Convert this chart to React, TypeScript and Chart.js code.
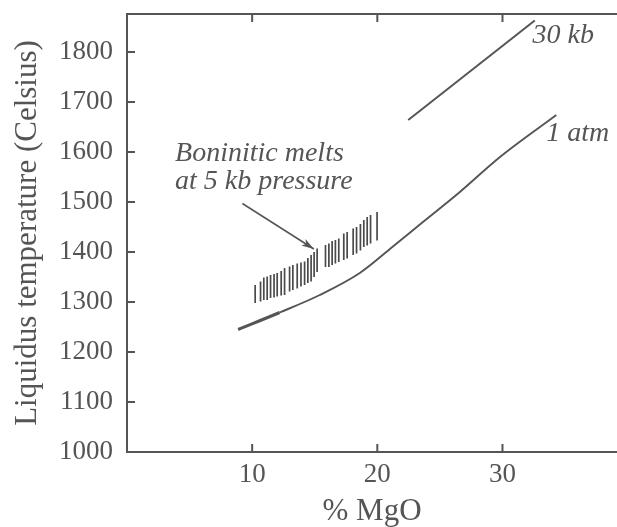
import React, { useEffect, useRef } from "react";
import { Chart, registerables } from "chart.js";

Chart.register(...registerables);

// 1 atm liquidus curve
const atmX = [8.88, 12.2, 15.4, 18.6, 21.2, 23.4, 26.5, 29.8, 34.3];
const atmY = [1245, 1279, 1314, 1358, 1410, 1455, 1518, 1590, 1674];

// 30 kb liquidus line
const kbX = [22.47, 32.58];
const kbY = [1664, 1863];

// Boninitic melts at 5 kb (vertical bars)
const bonX = [10.24, 10.67, 10.93, 11.2, 11.47, 11.75, 12.0, 12.32, 12.59, 12.99, 13.25, 13.6, 13.9, 14.19, 14.45, 14.71, 14.95, 15.19, 15.86, 16.13, 16.39, 16.65, 16.92, 17.32, 17.59, 18.07, 18.34, 18.65, 18.92, 19.19, 19.46, 19.98];
const bonHigh = [1334, 1341, 1349, 1351, 1354, 1356, 1358, 1362, 1368, 1371, 1374, 1377, 1379, 1381, 1388, 1394, 1400, 1407, 1414, 1417, 1422, 1424, 1427, 1437, 1440, 1447, 1450, 1456, 1464, 1470, 1474, 1480];
const bonLow = [1298, 1301, 1304, 1304, 1308, 1309, 1311, 1313, 1314, 1321, 1324, 1327, 1331, 1334, 1338, 1341, 1350, 1360, 1370, 1370, 1374, 1377, 1380, 1384, 1387, 1394, 1397, 1403, 1410, 1413, 1417, 1423];

const xTickLabels = ["10", "20", "30"];
const yTickLabels = ["1000", "1100", "1200", "1300", "1400", "1500", "1600", "1700", "1800"];

const INK = "#555555";
const TEXT = "#555555";
const SERIF = "'Liberation Serif', 'DejaVu Serif', serif";

export default function App() {
  const ref = useRef<HTMLCanvasElement | null>(null);

  useEffect(() => {
    const canvas = ref.current;
    if (!canvas) return;

    const bonData: any[] = [];
    bonX.forEach((x, i) => {
      bonData.push({ x, y: bonLow[i] });
      bonData.push({ x, y: bonHigh[i] });
      bonData.push({ x, y: null });
    });

    const inwardTicks = {
      id: "inwardTicks",
      afterDraw(chart: any) {
        const { ctx, chartArea, scales } = chart;
        ctx.save();
        ctx.strokeStyle = INK;
        ctx.lineWidth = 2;
        const xs = scales.x;
        xs.ticks.forEach((t: any) => {
          if (!xTickLabels.includes(String(t.value))) return;
          const px = xs.getPixelForValue(t.value);
          ctx.beginPath();
          ctx.moveTo(px, chartArea.bottom);
          ctx.lineTo(px, chartArea.bottom - 8);
          ctx.moveTo(px, chartArea.top);
          ctx.lineTo(px, chartArea.top + 8);
          ctx.stroke();
        });
        const ys = scales.y;
        ys.ticks.forEach((t: any) => {
          if (t.value <= 1000) return;
          const py = ys.getPixelForValue(t.value);
          ctx.beginPath();
          ctx.moveTo(chartArea.left, py);
          ctx.lineTo(chartArea.left + 8, py);
          ctx.stroke();
        });
        ctx.restore();
      },
    };

    const notes = {
      id: "notes",
      afterDraw(chart: any) {
        const { ctx, scales } = chart;
        const X = (v: number) => scales.x.getPixelForValue(v);
        const Y = (v: number) => scales.y.getPixelForValue(v);
        ctx.save();
        ctx.fillStyle = TEXT;
        ctx.font = `italic 28px ${SERIF}`;
        ctx.textAlign = "left";
        ctx.textBaseline = "middle";
        ctx.fillText("30 kb", X(32.4), Y(1832));
        ctx.fillText("1 atm", X(33.5), Y(1636));
        ctx.textBaseline = "alphabetic";
        ctx.fillText("Boninitic melts", X(3.84), Y(1582));
        ctx.fillText("at 5 kb pressure", X(3.84), Y(1526));
        // arrow
        const x0 = X(9.22), y0 = Y(1497), x1 = X(14.93), y1 = Y(1406);
        ctx.strokeStyle = INK;
        ctx.lineWidth = 1.5;
        ctx.beginPath();
        ctx.moveTo(x0, y0);
        ctx.lineTo(x1, y1);
        ctx.stroke();
        const ang = Math.atan2(y1 - y0, x1 - x0);
        const L = 13, W = 0.3;
        ctx.beginPath();
        ctx.moveTo(x1, y1);
        ctx.lineTo(x1 - L * Math.cos(ang - W), y1 - L * Math.sin(ang - W));
        ctx.lineTo(x1 - L * 0.7 * Math.cos(ang), y1 - L * 0.7 * Math.sin(ang));
        ctx.lineTo(x1 - L * Math.cos(ang + W), y1 - L * Math.sin(ang + W));
        ctx.closePath();
        ctx.fillStyle = INK;
        ctx.fill();
        ctx.restore();
      },
    };

    const chart = new Chart(canvas, {
      type: "scatter",
      data: {
        datasets: [
          {
            label: "1 atm",
            data: atmX.map((x, i) => ({ x, y: atmY[i] })),
            showLine: true,
            borderColor: INK,
            borderWidth: 2,
            pointRadius: 0,
            cubicInterpolationMode: "monotone",
            segment: {
              borderWidth: (c: any) => (c.p0.parsed.x < 12 ? 3 : 1.9),
            },
          },
          {
            label: "30 kb",
            data: kbX.map((x, i) => ({ x, y: kbY[i] })),
            showLine: true,
            borderColor: INK,
            borderWidth: 2,
            pointRadius: 0,
          },
          {
            label: "Boninitic melts",
            data: bonData,
            showLine: true,
            spanGaps: false,
            borderColor: "#4a4a4a",
            borderWidth: 1.7,
            pointRadius: 0,
          },
        ],
      },
      options: {
        animation: false,
        responsive: false,
        layout: { padding: 0 },
        plugins: { legend: { display: false }, tooltip: { enabled: false } },
        scales: {
          x: {
            type: "linear",
            position: "bottom",
            min: 0,
            max: 39.15,
            afterFit: (s: any) => { s.height = 75; s.paddingLeft = 0; s.paddingRight = 0; },
            grid: { display: true, drawOnChartArea: false, drawTicks: false },
            border: { display: true, color: INK, width: 2 },
            ticks: {
              stepSize: 10,
              includeBounds: false,
              padding: 7,
              color: TEXT,
              font: { family: SERIF, size: 27 },
              maxRotation: 0,
              callback: (v: any) => (xTickLabels.includes(String(v)) ? String(v) : ""),
            },
            title: {
              display: true,
              text: "% MgO",
              color: TEXT,
              font: { family: SERIF, size: 31, lineHeight: 1 },
              padding: { top: 0, bottom: 0 },
            },
          },
          x2: {
            type: "linear",
            position: "top",
            min: 0,
            max: 39.15,
            afterFit: (s: any) => { s.height = 14; s.paddingLeft = 0; s.paddingRight = 0; },
            grid: { display: true, drawOnChartArea: false, drawTicks: false },
            border: { display: true, color: INK, width: 2 },
            ticks: { display: false },
          },
          y: {
            type: "linear",
            min: 1000,
            max: 1876,
            afterFit: (s: any) => { s.width = 127; s.paddingTop = 0; s.paddingBottom = 0; },
            grid: { display: true, drawOnChartArea: false, drawTicks: false },
            border: { display: true, color: INK, width: 2 },
            ticks: {
              stepSize: 100,
              includeBounds: false,
              padding: 14,
              color: TEXT,
              font: { family: SERIF, size: 27 },
              callback: (v: any) => (yTickLabels.includes(String(v)) ? String(v) : ""),
            },
            title: {
              display: true,
              text: "Liquidus temperature (Celsius)",
              color: TEXT,
              font: { family: SERIF, size: 31, lineHeight: 1 },
              padding: { top: 12, bottom: 0 },
            },
          },
        },
      },
      plugins: [inwardTicks, notes],
    });

    return () => chart.destroy();
  }, []);

  return (
    <div style={{ position: "fixed", left: 0, top: 0, width: 617, height: 527, background: "#fff" }}>
      <canvas ref={ref} width={617} height={527} style={{ display: "block" }} />
    </div>
  );
}
